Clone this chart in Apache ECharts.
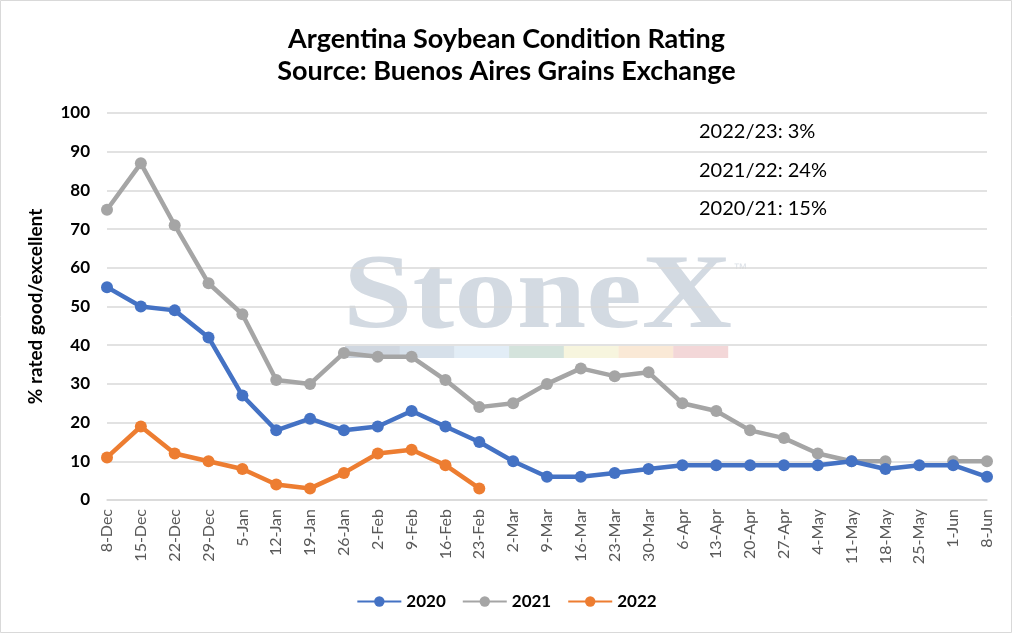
<!DOCTYPE html>
<html>
<head>
<meta charset="utf-8">
<script src="https://cdn.jsdelivr.net/npm/echarts@6/dist/echarts.min.js"></script>
<style>
html,body{margin:0;padding:0;background:#fff;}
#main{width:1013px;height:634px;}
</style>
</head>
<body>
<div id="main"></div>
<script>
var weeks = ["8-Dec","15-Dec","22-Dec","29-Dec","5-Jan","12-Jan","19-Jan","26-Jan","2-Feb","9-Feb","16-Feb","23-Feb","2-Mar","9-Mar","16-Mar","23-Mar","30-Mar","6-Apr","13-Apr","20-Apr","27-Apr","4-May","11-May","18-May","25-May","1-Jun","8-Jun"];
var y2020 = [55,50,49,42,27,18,21,18,19,23,19,15,10,6,6,7,8,9,9,9,9,9,10,8,9,9,6];
var y2021 = [75,87,71,56,48,31,30,38,37,37,31,24,25,30,34,32,33,25,23,18,16,12,10,10,null,10,10];
var y2022 = [11,19,12,10,8,4,3,7,12,13,9,3];
var notes = ["2022/23: 3%","2021/22: 24%","2020/21: 15%"];
var stripeColors = ["#d0d7e0","#d6e0ea","#e2edf6","#d4e3dc","#f7f5de","#fae9d6","#f3d7d8"];

var font = "Lato, 'Noto Sans', sans-serif";
var myChart = echarts.init(document.getElementById('main'));

// watermark + notes
var graphics = [];
graphics.push({
	type: 'rect', left: 0, top: 0, z: -10, silent: true,
	shape: {x: 0.5, y: 0.5, width: 1011, height: 632},
	style: {fill: '#fff', stroke: '#d9d9d9', lineWidth: 1}
});
graphics.push({
	type: 'text', z: -5, silent: true, x: 343, y: 247, scaleX: 1.18,
	style: {text: 'StoneX', font: 'bold 106px "Liberation Serif", "DejaVu Serif", serif', fill: '#d3dae2'}
});
graphics.push({
	type: 'text', z: -5, silent: true, x: 733, y: 262,
	style: {text: '\u2122', font: '14px "Liberation Sans", sans-serif', fill: '#dde2e8'}
});
for(var i=0;i<stripeColors.length;i++){
	graphics.push({
		type: 'rect', z: -5, silent: true,
		shape: {x: 345 + i*54.7, y: 346, width: 55, height: 12},
		style: {fill: stripeColors[i]}
	});
}
for(var j=0;j<notes.length;j++){
	graphics.push({
		type: 'text', x: 699, y: 122 + j*38.5,
		style: {text: notes[j], font: '20px ' + font, fill: '#000'}
	});
}

var option = {
	animation: false,
	textStyle: {fontFamily: font},
	title: {
		text: 'Argentina Soybean Condition Rating\nSource: Buenos Aires Grains Exchange',
		left: 'center', top: 18,
		textStyle: {fontSize: 27, fontWeight: 'bold', color: '#000', lineHeight: 32, fontFamily: font}
	},
	color: ['#4472c4','#a5a5a5','#ed7d31'],
	legend: {
		bottom: 19, left: 'center',
		itemWidth: 44, itemHeight: 13, itemGap: 16,
		textStyle: {fontSize: 17, fontWeight: 'bold', color: '#000', fontFamily: font},
		data: ['2020','2021','2022']
	},
	grid: {left: 107, right: 26, top: 113, bottom: 134},
	xAxis: {
		type: 'category',
		data: weeks,
		boundaryGap: false,
		axisLine: {lineStyle: {color: '#d9d9d9', width: 1.5}},
		axisTick: {show: false},
		axisLabel: {rotate: 90, fontSize: 16, color: '#595959', margin: 9, interval: 0, fontFamily: font}
	},
	yAxis: {
		type: 'value',
		min: 0, max: 100, interval: 10,
		name: '% rated good/excellent',
		nameLocation: 'middle',
		nameGap: 62,
		nameTextStyle: {fontSize: 19, fontWeight: 'bold', color: '#000', fontFamily: font},
		axisLine: {show: false},
		axisTick: {show: false},
		axisLabel: {fontSize: 17, fontWeight: 'bold', color: '#000', margin: 17, fontFamily: font},
		splitLine: {lineStyle: {color: '#d9d9d9', width: 1.5}}
	},
	series: [
		{name: '2020', type: 'line', data: y2020, symbol: 'circle', symbolSize: 12, lineStyle: {width: 4.5}, z: 3},
		{name: '2021', type: 'line', data: y2021, symbol: 'circle', symbolSize: 12, lineStyle: {width: 4.5}, connectNulls: false, z: 2},
		{name: '2022', type: 'line', data: y2022, symbol: 'circle', symbolSize: 12, lineStyle: {width: 4.5}, z: 4}
	],
	graphic: graphics
};
myChart.setOption(option);
</script>
</body>
</html>
